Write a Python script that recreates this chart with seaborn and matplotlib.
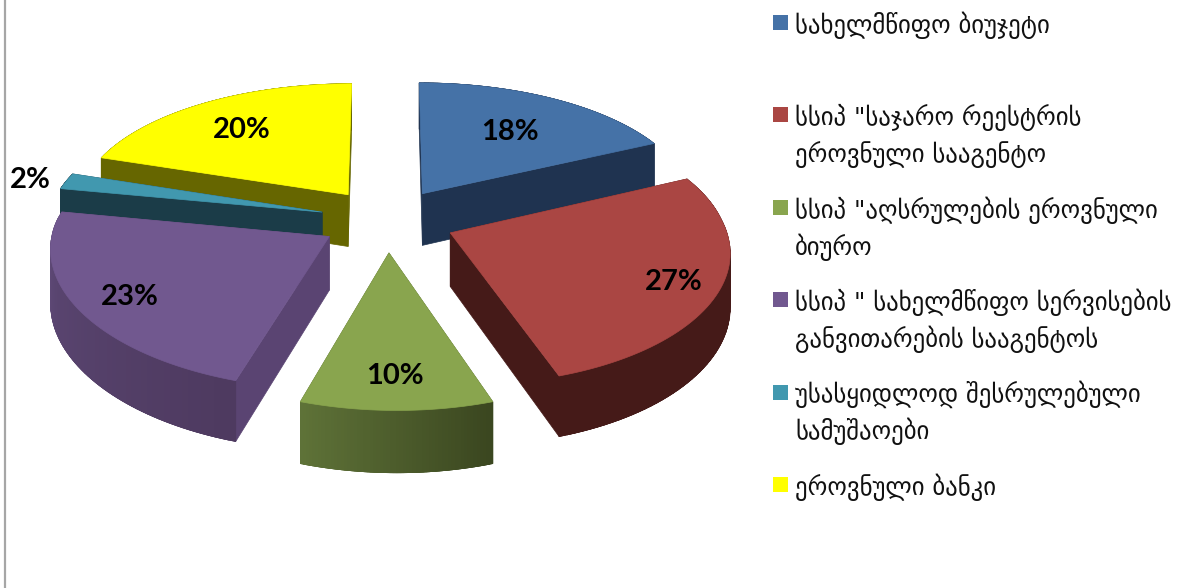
import matplotlib
matplotlib.use("Agg")
import matplotlib.pyplot as plt
from matplotlib.patches import Rectangle
import numpy as np
import seaborn as sns

# data
shares = [18, 27, 10, 23, 2, 20]
legend_lines = [
    ["სახელმწიფო ბიუჯეტი"],
    ['სსიპ "საჯარო რეესტრის', "ეროვნული სააგენტო"],
    ['სსიპ "აღსრულების ეროვნული', "ბიურო"],
    ['სსიპ " სახელმწიფო სერვისების', "განვითარების სააგენტოს"],
    ["უსასყიდლოდ შესრულებული", "სამუშაოები"],
    ["ეროვნული ბანკი"],
]
top_colors = ["#4572a7", "#aa4643", "#89a54e", "#71588f", "#4198af", "#ffff00"]
side_colors = ["#1f3350", "#451a18", "#4e5f2c", "#5a4472", "#1b3c48", "#666600"]
wall_from = ["#1f3350", "#451a18", "#5f7338", "#5f4a78", "#1b3c48", "#666600"]
wall_to = ["#1f3350", "#451a18", "#3b4720", "#4e3a60", "#1b3c48", "#666600"]

# pie geometry, in pixels of the output
CX, CY = 387, 220
AX_X, AX_Y = 274, 130
PERSP_X, PERSP_Y = 0.10, 0.12
SHEAR = 8
DEPTH = 53
EXPLODE = 0.246
label_reach = [0.9, 1.08, 1.03, 1.05, 1.39, 0.97]
label_drop = 3
draw_order = [0, 5, 4, 1, 3, 2]


def project(x, y, z=0.0):
    y = np.asarray(y)
    wy = 1 + PERSP_Y * y
    sx = CX + AX_X * np.asarray(x) / (1 + PERSP_X * y) + SHEAR * np.maximum(-y, 0)
    return sx, CY - AX_Y * y / wy + z * DEPTH / wy


def face(ax, x3, y3, z3, color, zorder, lw=0.5):
    sx, sy = project(np.asarray(x3), np.asarray(y3), np.asarray(z3))
    ax.fill(sx, sy, facecolor=color, edgecolor=color, lw=lw, zorder=zorder)


sns.set_theme(style="white")
plt.rcParams["font.family"] = ["DejaVu Sans"]
fig, ax = plt.subplots(figsize=(11.83, 5.88), dpi=100)
fig.subplots_adjust(0, 0, 1, 1)
ax.set_xlim(0, 1183)
ax.set_ylim(588, 0)
ax.axis("off")

ax.plot([5.5, 5.5], [0, 588], color="#a6a6a6", lw=1.6, zorder=0)

edges = np.concatenate([[0], np.cumsum(shares)]) / sum(shares) * 2 * np.pi
z = 1
for i in draw_order:
    t0, t1 = edges[i], edges[i + 1]
    mid = (t0 + t1) / 2
    ex, ey = EXPLODE * np.sin(mid), EXPLODE * np.cos(mid)
    th = np.linspace(t0, t1, 61)
    rx, ry = ex + np.sin(th), ey + np.cos(th)

    # cut faces from the apex out to both arc ends
    for end in (0, -1):
        face(ax, [ex, rx[end], rx[end], ex], [ey, ry[end], ry[end], ey], [0, 0, 1, 1], side_colors[i], z)
    # outer wall, shaded left to right; strips overlap so no seams show
    pal = sns.blend_palette([wall_from[i], wall_to[i]], 60)
    by_x = np.argsort(project(rx[:-1], ry[:-1])[0])
    for rank, k in enumerate(by_x):
        k2 = min(k + 2, 60)
        k0 = max(k - 1, 0)
        face(ax, [rx[k0], rx[k2], rx[k2], rx[k0]], [ry[k0], ry[k2], ry[k2], ry[k0]], [0, 0, 1, 1], pal[rank], z)
    face(ax, np.r_[ex, rx], np.r_[ey, ry], np.zeros(62), top_colors[i], z + 1)

    lx, ly = project(label_reach[i] * np.sin(mid), label_reach[i] * np.cos(mid))
    ax.text(lx, ly + label_drop, f"{shares[i]}%", fontsize=21, fontweight="bold", family="Lato",
            color="black", ha="center", va="center", zorder=50)
    z += 2

# legend on the right, each swatch level with the first line
for i, lines in enumerate(legend_lines):
    y0 = 25 + i * 92.4
    ax.add_patch(Rectangle((773, y0 - 10), 15, 15, facecolor=top_colors[i], edgecolor="none"))
    for j, line in enumerate(lines):
        ax.text(795, y0 + j * 37, line, fontsize=17.8, color="#111111", ha="left", va="center")

plt.savefig("out.png", dpi=100)
